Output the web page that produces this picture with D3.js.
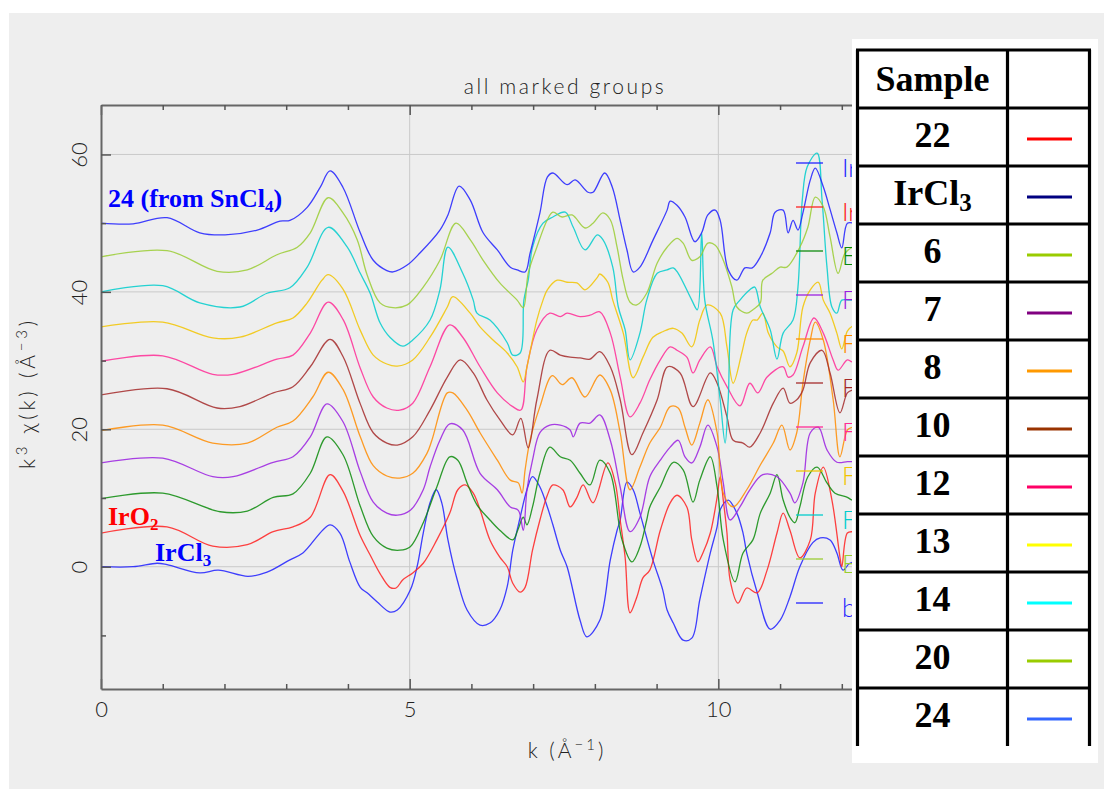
<!DOCTYPE html>
<html>
<head>
<meta charset="utf-8">
<script src="https://cdn.jsdelivr.net/npm/d3@7"></script>
<style>
  body { margin: 0; background: #ffffff; }
  svg { display: block; }
</style>
</head>
<body>
<svg id="chart" width="1104" height="790"></svg>
<script>
// ---------------------------------------------------------------
// EXAFS k^3-weighted chi(k) traces, stacked by +5 per group.
// Each trace is a list of [k (1/Å), k^3 chi(k) incl. stacking shift].
// ---------------------------------------------------------------
const traceIrCl3 = [[0,0],[0.52,0],[0.91,0.5],[1.07,0.3],[1.60,-0.9],[1.90,-0.5],[2.38,-1.4],[2.69,-0.8],[3.06,1.0],[3.27,2.0],[3.71,6.1],[3.87,4.9],[4.03,0.7],[4.20,-3.0],[4.31,-3.8],[4.47,-5.1],[4.68,-6.6],[4.80,-6.3],[5.01,-3.4],[5.12,0],[5.22,4.9],[5.33,9.3],[5.43,11.2],[5.52,9.3],[5.62,3.9],[5.77,-1.9],[5.93,-6.3],[6.14,-8.5],[6.30,-8.2],[6.46,-6.3],[6.58,-2.9],[6.67,2.4],[6.79,7.2],[6.90,11.2],[6.99,13.1],[7.11,11.6],[7.23,8.7],[7.32,6.1],[7.44,2.4],[7.55,0],[7.76,-7.8],[7.87,-10.2],[8.08,-7.8],[8.25,1.0],[8.36,5.3],[8.41,6.8],[8.52,12.3],[8.62,11.2],[8.73,7.8],[8.94,1.0],[9.10,-3.4],[9.17,-6.3],[9.27,-8.2],[9.43,-10.7],[9.57,-10.4],[9.70,-4.8],[9.87,2.0],[9.98,5.8],[10.03,8.3],[10.16,9.7],[10.30,7.8],[10.40,4.9],[10.46,2.0],[10.63,-3.8],[10.84,-9.1],[11.00,-7.8],[11.16,-4.4],[11.32,0],[11.53,3.5],[11.65,4.2],[11.81,3.9],[11.92,2.0],[12.02,-0.5],[12.13,0.5],[12.4,1.0]];

const traceIrO2 = [[0,4.9],[1.07,5.8],[1.81,3.0],[2.37,3.2],[2.79,5.1],[3.11,5.8],[3.39,7.2],[3.71,13.4],[3.92,11.0],[4.20,4.5],[4.36,1.7],[4.52,-1.0],[4.68,-3.0],[4.78,-3.1],[4.89,-1.9],[5.05,-0.9],[5.22,0.5],[5.44,3.9],[5.65,7.8],[5.78,11.2],[5.90,11.9],[6.03,10.7],[6.14,8.3],[6.30,3.9],[6.46,1.4],[6.58,0],[6.67,-2.4],[6.79,-3.7],[6.87,-3.0],[6.99,2.4],[7.11,6.8],[7.23,10.4],[7.32,11.9],[7.48,11.2],[7.60,8.7],[7.71,10.1],[7.81,11.9],[7.97,9.3],[8.21,15.1],[8.33,12.2],[8.41,6.8],[8.49,1.4],[8.57,-6.7],[8.68,-4.4],[8.78,-1.6],[8.89,-0.5],[9.06,5.3],[9.22,9.3],[9.33,10.4],[9.49,8.7],[9.57,3.9],[9.67,0.7],[9.75,2.0],[9.87,4.9],[9.98,10.1],[10.03,13.1],[10.08,9.7],[10.14,4.9],[10.19,-1.9],[10.32,-5.3],[10.46,-3.1],[10.63,-3.8],[10.79,-0.5],[10.95,4.9],[11.05,7.8],[11.16,5.3],[11.32,1.3],[11.49,3.9],[11.57,10.7],[11.70,14.5],[11.84,9.7],[11.97,1.4],[12.00,0],[12.09,4.9],[12.18,5.1],[12.4,5.0]];

const trace6 = [[0,9.9],[1.00,10.7],[1.93,8.0],[2.37,8.1],[2.79,10.1],[3.11,10.6],[3.39,13.6],[3.66,18.9],[3.92,16.3],[4.20,8.8],[4.41,4.4],[4.63,2.7],[4.84,2.4],[5.01,2.9],[5.22,6.4],[5.44,11.6],[5.65,16.0],[5.78,15.5],[5.93,12.2],[6.09,9.0],[6.30,6.8],[6.46,5.3],[6.67,3.9],[6.75,5.3],[6.84,7.2],[6.90,6.1],[6.99,8.7],[7.11,13.6],[7.27,17.4],[7.44,16.0],[7.60,15.5],[7.76,13.6],[7.92,11.9],[8.08,15.5],[8.25,13.6],[8.44,3.9],[8.60,0.7],[8.73,2.9],[8.84,6.8],[8.89,8.7],[9.06,11.6],[9.27,15.2],[9.43,14.1],[9.59,9.4],[9.70,12.6],[9.87,16.0],[9.98,11.6],[10.08,3.9],[10.27,-2.2],[10.40,2.0],[10.56,3.9],[10.68,7.8],[10.84,10.7],[10.95,13.4],[11.05,9.7],[11.16,7.2],[11.24,6.4],[11.32,8.7],[11.45,13.1],[11.60,14.5],[11.76,12.2],[11.89,10.7],[12.09,10.1],[12.17,9.7],[12.4,10.0]];

const trace7 = [[0,15.1],[1.00,15.8],[1.81,13.1],[2.14,13.1],[2.79,15.2],[3.11,16.0],[3.39,18.9],[3.66,23.7],[3.92,21.1],[4.20,13.8],[4.41,9.4],[4.63,7.8],[4.80,7.5],[5.01,8.2],[5.22,11.2],[5.33,14.5],[5.49,18.4],[5.65,20.8],[5.86,19.9],[6.14,13.6],[6.42,11.2],[6.63,8.7],[6.76,8.2],[6.84,5.3],[6.90,11.2],[6.99,15.5],[7.11,19.5],[7.27,20.6],[7.44,20.6],[7.60,19.9],[7.65,18.9],[7.76,20.9],[7.92,20.9],[8.08,22.1],[8.25,18.4],[8.41,11.6],[8.57,5.1],[8.73,7.2],[8.89,13.1],[9.06,15.5],[9.22,17.4],[9.35,18.4],[9.46,16.0],[9.57,15.1],[9.70,17.4],[9.83,20.6],[9.98,17.4],[10.08,12.2],[10.19,6.8],[10.35,8.7],[10.51,11.2],[10.72,13.4],[10.95,13.1],[11.16,10.7],[11.24,9.3],[11.37,12.2],[11.49,19.5],[11.62,20.3],[11.76,17.0],[11.92,15.2],[12.09,15.3],[12.17,15.3],[12.4,15.5]];

const trace8 = [[0,19.8],[1.00,20.6],[1.81,18.0],[2.37,18.0],[2.85,20.3],[3.11,21.2],[3.43,24.7],[3.68,28.3],[3.92,25.8],[4.20,18.9],[4.41,14.7],[4.63,13.2],[4.84,12.9],[5.05,13.6],[5.28,16.5],[5.36,18.4],[5.61,25.3],[5.70,25.3],[5.93,22.8],[6.14,19.5],[6.42,15.5],[6.63,12.6],[6.76,12.2],[6.82,10.7],[6.87,14.1],[6.95,18.4],[7.11,23.3],[7.31,27.8],[7.47,26.5],[7.63,27.5],[7.84,24.7],[8.08,27.9],[8.25,25.7],[8.41,19.5],[8.57,11.2],[8.73,14.5],[8.89,18.0],[9.06,20.3],[9.22,23.3],[9.35,23.1],[9.46,20.3],[9.57,17.7],[9.70,20.9],[9.83,24.3],[9.98,19.5],[10.08,10.7],[10.24,8.7],[10.46,11.2],[10.68,14.8],[10.89,18.0],[11.03,20.6],[11.16,17.0],[11.27,19.5],[11.37,26.7],[11.49,33.0],[11.57,35.6],[11.70,33.0],[11.86,24.3],[11.97,16.0],[12.09,19.9],[12.17,20.3],[12.4,21.0]];

const trace10 = [[0,25.0],[1.07,25.9],[1.88,23.1],[2.25,23.3],[2.79,25.3],[3.11,26.2],[3.39,29.1],[3.71,33.1],[3.92,30.6],[4.20,23.7],[4.41,19.5],[4.63,18.0],[4.80,17.7],[5.05,18.9],[5.33,22.8],[5.61,27.6],[5.82,30.1],[6.03,28.2],[6.25,24.3],[6.46,21.4],[6.67,19.2],[6.80,21.6],[6.92,17.3],[7.06,24.3],[7.27,31.5],[7.44,30.8],[7.60,30.5],[7.76,30.4],[7.92,30.2],[8.08,31.3],[8.25,29.1],[8.41,24.3],[8.60,16.3],[8.78,19.5],[9.01,24.3],[9.18,29.1],[9.38,28.2],[9.59,23.3],[9.87,28.2],[9.98,26.7],[10.14,21.8],[10.24,18.4],[10.40,18.0],[10.51,17.4],[10.68,19.5],[10.89,23.8],[11.05,26.0],[11.16,23.8],[11.27,24.3],[11.37,25.7],[11.49,29.7],[11.68,31.5],[11.81,28.2],[11.97,22.4],[12.09,25.3],[12.17,25.7],[12.4,26.0]];

const trace12 = [[0,29.9],[1.00,30.7],[1.81,28.0],[2.14,28.0],[2.85,30.2],[3.11,30.8],[3.39,34.0],[3.68,38.5],[3.92,36.0],[4.20,28.9],[4.41,24.7],[4.63,23.1],[4.84,22.8],[5.05,23.8],[5.33,29.1],[5.65,35.2],[5.86,33.4],[6.14,29.1],[6.42,25.3],[6.67,23.3],[6.80,22.8],[6.90,29.1],[7.06,34.5],[7.27,36.9],[7.44,36.4],[7.55,36.9],[7.76,36.4],[7.92,36.6],[8.08,37.1],[8.25,34.0],[8.41,27.6],[8.57,21.8],[8.73,23.8],[8.89,27.2],[9.06,30.1],[9.22,32.0],[9.33,31.5],[9.49,30.5],[9.59,28.2],[9.70,30.1],[9.87,32.0],[9.98,29.1],[10.14,26.2],[10.35,23.4],[10.51,26.7],[10.64,25.3],[10.79,27.6],[11.05,29.1],[11.13,27.6],[11.21,27.9],[11.37,32.0],[11.55,36.2],[11.70,34.0],[11.86,30.1],[11.94,28.6],[12.09,30.1],[12.17,29.8],[12.4,30.0]];

const trace13 = [[0,34.9],[1.00,35.6],[1.81,33.3],[2.25,33.4],[2.85,35.5],[3.11,36.2],[3.34,38.4],[3.58,41.7],[3.68,42.5],[3.92,40.4],[4.20,34.4],[4.41,30.8],[4.63,29.5],[4.80,29.2],[5.05,30.1],[5.33,33.4],[5.61,37.8],[5.70,39.3],[5.98,36.9],[6.14,34.9],[6.35,33.0],[6.58,31.1],[6.74,29.1],[6.84,26.9],[6.90,29.1],[7.06,35.9],[7.16,38.8],[7.23,40.3],[7.39,41.7],[7.55,41.4],[7.71,41.3],[7.84,40.3],[8.04,42.1],[8.08,42.6],[8.21,41.4],[8.29,38.8],[8.46,34.0],[8.62,27.5],[8.78,30.5],[8.94,33.4],[9.10,34.2],[9.27,34.7],[9.41,34.0],[9.57,32.0],[9.70,35.9],[9.82,38.1],[10.03,36.9],[10.14,32.0],[10.24,26.7],[10.38,31.1],[10.46,34.0],[10.56,35.9],[10.63,35.9],[10.72,36.9],[10.81,34.0],[10.95,32.0],[11.05,31.4],[11.16,29.1],[11.27,31.1],[11.37,37.8],[11.49,40.3],[11.62,41.4],[11.70,38.8],[11.81,36.9],[11.92,34.0],[12.00,31.7],[12.09,34.3],[12.17,35.0],[12.4,35.5]];

const trace14 = [[0,40.0],[1.00,40.9],[1.60,38.4],[2.25,37.8],[2.69,39.8],[3.06,40.6],[3.34,43.6],[3.68,49.4],[3.99,46.5],[4.20,42.7],[4.36,39.8],[4.52,35.5],[4.68,33.4],[4.89,32.1],[5.05,33.0],[5.33,35.9],[5.49,40.3],[5.62,46.5],[5.86,42.7],[6.03,38.8],[6.09,36.9],[6.30,35.9],[6.58,32.6],[6.67,30.8],[6.79,31.1],[6.85,38.8],[6.92,41.7],[6.99,46.5],[7.16,50.0],[7.32,50.9],[7.52,51.6],[7.65,49.4],[7.84,46.1],[8.04,48.3],[8.13,47.6],[8.29,43.6],[8.38,37.8],[8.49,34.5],[8.57,30.1],[8.73,34.0],[8.84,38.8],[9.01,42.7],[9.17,43.2],[9.27,43.5],[9.35,42.7],[9.57,38.8],[9.66,37.4],[9.73,48.6],[9.78,38.8],[9.91,33.0],[10.03,24.3],[10.11,18.0],[10.16,24.3],[10.24,37.4],[10.35,38.8],[10.51,40.3],[10.59,40.7],[10.68,37.8],[10.84,34.5],[10.95,30.2],[11.05,34.0],[11.21,35.9],[11.29,40.7],[11.36,53.4],[11.44,58.2],[11.60,60.2],[11.68,53.4],[11.76,43.6],[11.84,37.8],[11.92,36.9],[12.00,38.8],[12.13,38.8],[12.4,39.0]];

const trace20 = [[0,45.1],[1.07,46.0],[1.88,43.0],[2.37,43.2],[2.85,45.4],[3.18,46.5],[3.39,48.6],[3.68,53.7],[3.92,51.5],[4.15,47.6],[4.31,42.5],[4.52,38.4],[4.73,37.7],[4.96,38.1],[5.22,40.7],[5.49,44.6],[5.75,50.0],[5.98,47.6],[6.19,44.6],[6.46,41.3],[6.74,38.8],[6.84,37.7],[6.92,42.7],[7.06,46.5],[7.23,50.5],[7.32,51.6],[7.47,50.9],[7.63,51.2],[7.84,49.3],[7.97,50.0],[8.13,51.5],[8.25,50.5],[8.36,46.5],[8.46,41.7],[8.57,38.5],[8.68,38.1],[8.84,39.8],[9.01,44.2],[9.17,46.5],[9.33,47.8],[9.43,47.1],[9.57,44.6],[9.70,45.1],[9.83,47.1],[9.95,46.8],[10.08,44.6],[10.22,40.7],[10.30,37.8],[10.46,36.9],[10.56,37.4],[10.68,38.4],[10.72,41.7],[10.87,42.7],[11.00,43.6],[11.11,43.6],[11.32,46.5],[11.45,49.4],[11.57,53.8],[11.70,52.4],[11.81,48.0],[11.94,42.7],[12.05,45.6],[12.17,46.5],[12.4,47.0]];

const trace24 = [[0,50.0],[0.52,49.9],[1.07,50.8],[1.60,48.6],[2.01,48.3],[2.53,49.0],[2.90,50.3],[3.06,50.4],[3.34,52.3],[3.55,55.2],[3.71,57.6],[3.92,55.2],[4.20,48.6],[4.41,44.6],[4.63,43.1],[4.73,42.9],[4.96,43.9],[5.17,45.7],[5.49,49.0],[5.62,51.2],[5.80,55.4],[5.98,53.4],[6.19,48.6],[6.42,46.1],[6.63,43.6],[6.74,43.2],[6.87,42.9],[6.95,45.6],[7.11,51.5],[7.23,56.7],[7.32,57.3],[7.55,55.6],[7.68,56.3],[7.89,54.5],[7.97,54.5],[8.16,57.3],[8.28,55.3],[8.41,50.4],[8.52,46.1],[8.62,42.9],[8.73,43.6],[8.94,47.5],[9.17,51.9],[9.22,53.2],[9.33,52.6],[9.46,50.9],[9.62,47.3],[9.73,48.6],[9.83,51.2],[9.95,51.9],[10.03,50.4],[10.16,43.2],[10.30,41.7],[10.43,43.5],[10.55,43.5],[10.68,45.1],[10.84,48.6],[10.92,51.6],[11.05,51.9],[11.13,48.6],[11.21,50.4],[11.29,49.0],[11.37,51.5],[11.49,56.3],[11.57,58.0],[11.70,55.3],[11.81,52.0],[11.92,48.6],[12.00,46.4],[12.09,50.0],[12.2,50.0],[12.4,49.5]];

// group order, legend names and plot colours
const groupTraces = [traceIrCl3, traceIrO2, trace6, trace7, trace8, trace10, trace12, trace13, trace14, trace20, trace24];
const groupNames  = ["IrCl3", "IrO2", "E6", "F7", "F8", "F10", "F12", "F13", "F14", "E20", "b24"];
const groupColors = ["#1f1fff", "#ff2020", "#0b8b0b", "#9a1ee0", "#ff8c00", "#a52a2a", "#ff2a95", "#f2c400", "#00cdcd", "#9acd32", "#1f1fff"];

// axis ranges and ticks
const kRange = [0, 15];
const yRange = [-17.8, 67.2];
const xMajorTicks = [0, 5, 10, 15];
const xMinorTicks = [1, 2, 3, 4, 6, 7, 8, 9, 11, 12, 13, 14];
const yMajorTicks = [0, 20, 40, 60];
const yMinorTicks = [-10, 10, 30, 50];

// sample key table
const sampleLabels = ["22", "IrCl|3", "6", "7", "8", "10", "12", "13", "14", "20", "24"];
const sampleColors = ["#ff0000", "#000080", "#99cc00", "#800080", "#ff9900", "#993300", "#ff0066", "#ffff00", "#00ffff", "#99cc00", "#3366ff"];

// ---------------------------------------------------------------
const W = 1104, H = 790;
const svg = d3.select("#chart");
const plot = { left: 101, right: 1027, top: 105, bottom: 689 };

svg.append("rect").attr("x", 9).attr("y", 13).attr("width", W - 9).attr("height", 776).attr("fill", "#eeeeee");

const x = d3.scaleLinear().domain(kRange).range([plot.left, plot.right]);
const y = d3.scaleLinear().domain(yRange).range([plot.bottom, plot.top]);

// grid
const grid = svg.append("g").attr("stroke", "#c9c9c9").attr("stroke-width", 1);
grid.selectAll("line.gx").data(xMajorTicks.filter(d => d > 0)).join("line")
  .attr("x1", d => x(d)).attr("x2", d => x(d)).attr("y1", plot.top).attr("y2", plot.bottom);
grid.selectAll("line.gy").data(yMajorTicks).join("line")
  .attr("y1", d => y(d)).attr("y2", d => y(d)).attr("x1", plot.left).attr("x2", plot.right);

// traces
svg.append("clipPath").attr("id", "plotClip").append("rect")
  .attr("x", plot.left).attr("y", plot.top).attr("width", plot.right - plot.left).attr("height", plot.bottom - plot.top);

const line = d3.line().x(d => x(d[0])).y(d => y(d[1])).curve(d3.curveCatmullRom.alpha(0.5));
svg.append("g").attr("clip-path", "url(#plotClip)")
  .selectAll("path").data(groupTraces).join("path")
  .attr("d", line).attr("fill", "none")
  .attr("stroke", (d, i) => groupColors[i]).attr("stroke-width", 1.3)
  .attr("stroke-linejoin", "round").attr("opacity", 0.85);

// axes
const tickFont = "Lato, 'Liberation Sans', Arial, sans-serif";
function styleAxis(g) {
  g.select(".domain").attr("stroke", "#666").attr("stroke-width", 2);
  g.selectAll(".tick line").attr("stroke", "#555").attr("stroke-width", 1.5);
  g.selectAll(".tick text").attr("fill", "#222").style("font-family", tickFont)
    .style("font-weight", 300).style("font-size", "22px");
}
const axes = svg.append("g");
axes.append("g").attr("transform", `translate(0,${plot.bottom})`)
  .call(d3.axisBottom(x).tickValues(xMajorTicks).tickSizeInner(-10).tickSizeOuter(0).tickPadding(12).tickFormat(d3.format("d")))
  .call(styleAxis);
axes.append("g").attr("transform", `translate(0,${plot.top})`)
  .call(d3.axisTop(x).tickValues(xMajorTicks).tickSizeInner(-10).tickSizeOuter(0).tickFormat(""))
  .call(styleAxis);
axes.append("g").attr("transform", `translate(${plot.left},0)`)
  .call(d3.axisLeft(y).tickValues(yMajorTicks).tickSizeInner(-10).tickSizeOuter(0).tickFormat(d3.format("d")))
  .call(styleAxis)
  .call(g => g.selectAll(".tick text")
    .attr("x", 0).attr("dy", null).attr("text-anchor", "middle")
    .attr("transform", "translate(-14,0) rotate(-90)"));
axes.append("g").attr("transform", `translate(${plot.right},0)`)
  .call(d3.axisRight(y).tickValues(yMajorTicks).tickSizeInner(-10).tickSizeOuter(0).tickFormat(""))
  .call(styleAxis);
// minor ticks
[[d3.axisBottom(x).tickValues(xMinorTicks), `translate(0,${plot.bottom})`],
 [d3.axisTop(x).tickValues(xMinorTicks), `translate(0,${plot.top})`],
 [d3.axisLeft(y).tickValues(yMinorTicks), `translate(${plot.left},0)`],
 [d3.axisRight(y).tickValues(yMinorTicks), `translate(${plot.right},0)`]].forEach(([ax, tr]) => {
  axes.append("g").attr("transform", tr)
    .call(ax.tickSizeInner(-5).tickSizeOuter(0).tickFormat(""))
    .call(styleAxis)
    .call(g => g.select(".domain").remove());
});

// titles
svg.append("text").attr("x", 565).attr("y", 94).attr("text-anchor", "middle")
  .attr("fill", "#222").style("font-family", tickFont).style("font-weight", 300)
  .style("font-size", "21px").style("letter-spacing", "2.6px")
  .text("all marked groups");

const xl = svg.append("text").attr("x", 567).attr("y", 758).attr("text-anchor", "middle")
  .attr("fill", "#222").style("font-family", tickFont).style("font-weight", 300)
  .style("font-size", "21px").style("letter-spacing", "3px");
xl.append("tspan").text("k (Å");
xl.append("tspan").attr("dy", -8).style("font-size", "15px").text("−1");
xl.append("tspan").attr("dy", 8).text(")");

const yl = svg.append("text").attr("transform", "translate(35,393) rotate(-90)").attr("text-anchor", "middle")
  .attr("fill", "#222").style("font-family", tickFont).style("font-weight", 300)
  .style("font-size", "21px").style("letter-spacing", "3.8px");
yl.append("tspan").text("k");
yl.append("tspan").attr("dy", -8).style("font-size", "15px").text("3");
yl.append("tspan").attr("dy", 8).text(" χ(k) (Å");
yl.append("tspan").attr("dy", -8).style("font-size", "15px").text("−3");
yl.append("tspan").attr("dy", 8).text(")");

// in-plot legend
const leg = svg.append("g");
groupNames.forEach((name, i) => {
  const ly = 163 + i * 44;
  leg.append("line").attr("x1", 796).attr("x2", 823).attr("y1", ly).attr("y2", ly)
    .attr("stroke", groupColors[i]).attr("stroke-width", 1.5).attr("opacity", 0.85);
  leg.append("text").attr("x", 842).attr("y", ly + 14).attr("fill", groupColors[i])
    .style("font-family", tickFont).style("font-weight", 300).style("font-size", "25px").text(name);
});

// curve annotations
const serif = "'Liberation Serif', 'Times New Roman', serif";
function subText(xp, yp, main, sub, tail, color) {
  const t = svg.append("text").attr("x", xp).attr("y", yp).attr("fill", color)
    .style("font-family", serif).style("font-weight", "bold").style("font-size", "26px");
  t.append("tspan").text(main);
  t.append("tspan").attr("dy", 5).style("font-size", "17px").text(sub);
  if (tail) t.append("tspan").attr("dy", -5).text(tail);
}
subText(108, 207, "24 (from SnCl", "4", ")", "#0000ff");
subText(108, 525, "IrO", "2", "", "#ff0000");
subText(155, 561, "IrCl", "3", "", "#0000ff");

// sample key table
const tbl = svg.append("g");
const tX = [857.5, 1007.5, 1089.5];
const tTop = 50, rowH = 58, tBottom = 746;
tbl.append("rect").attr("x", 852).attr("y", 39).attr("width", 246).attr("height", 724).attr("fill", "#ffffff");
const rows = sampleLabels.length + 1;
for (let r = 0; r < rows; r++) {
  tbl.append("line").attr("x1", tX[0] - 1.5).attr("x2", tX[2] + 1.5)
    .attr("y1", tTop + r * rowH).attr("y2", tTop + r * rowH)
    .attr("stroke", "#000").attr("stroke-width", 3.2);
}
tX.forEach(xx => tbl.append("line").attr("x1", xx).attr("x2", xx).attr("y1", tTop).attr("y2", tBottom)
  .attr("stroke", "#000").attr("stroke-width", 3.2));

const cellText = (yp, label) => {
  const [main, sub] = label.split("|");
  const t = tbl.append("text").attr("x", (tX[0] + tX[1]) / 2).attr("y", yp).attr("text-anchor", "middle")
    .attr("fill", "#000").style("font-family", serif).style("font-weight", "bold").style("font-size", "36px");
  t.append("tspan").text(main);
  if (sub) t.append("tspan").attr("dy", 6).style("font-size", "25px").text(sub);
};
cellText(tTop + 41, "Sample");
sampleLabels.forEach((lab, i) => {
  const rt = tTop + (i + 1) * rowH;
  cellText(rt + 39, lab);
  tbl.append("line").attr("x1", 1027).attr("x2", 1072).attr("y1", rt + 31).attr("y2", rt + 31)
    .attr("stroke", sampleColors[i]).attr("stroke-width", 3);
});
</script>
</body>
</html>
